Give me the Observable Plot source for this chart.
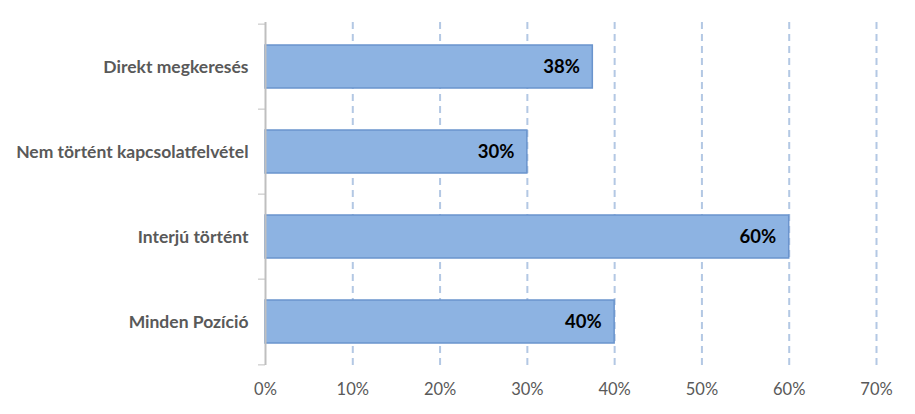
<!DOCTYPE html>
<html>
<head>
<meta charset="utf-8">
<script src="https://cdn.jsdelivr.net/npm/d3@7"></script>
<script src="https://cdn.jsdelivr.net/npm/@observablehq/plot@0.6"></script>
<style>
  html, body { margin: 0; padding: 0; background: #fff; }
  #chart { width: 915px; height: 414px; }
</style>
</head>
<body>
<div id="chart"></div>
<script>
const categories = ["Direkt megkeresés", "Nem történt kapcsolatfelvétel", "Interjú történt", "Minden Pozíció"];
const values = [0.375, 0.30, 0.60, 0.40];
const xTicks = [0, 0.1, 0.2, 0.3, 0.4, 0.5, 0.6, 0.7];

const data = categories.map((c, i) => ({category: c, value: values[i]}));

const W = 915, H = 414;
const mTop = 22, mBottom = 49, mLeft = 265, mRight = 39;
const step = (H - mTop - mBottom) / categories.length;

const fmt = d3.format(".0%");

const chart = Plot.plot({
  width: W,
  height: H,
  marginTop: mTop,
  marginBottom: mBottom,
  marginLeft: mLeft,
  marginRight: mRight,
  style: {fontFamily: "Lato, 'Open Sans', sans-serif", fontSize: "15px", color: "#595959", background: "#fff", overflow: "visible"},
  x: {domain: [0, 0.7], label: null},
  y: {domain: categories, paddingInner: 0.5, paddingOuter: 0.25, label: null},
  marks: [
    Plot.ruleX(xTicks.filter(d => d > 0), {stroke: "#b3c8e4", strokeWidth: 2, strokeDasharray: "7,5"}),
    Plot.barX(data, {y: "category", x: "value", fill: "#8db3e2", stroke: "#6a94cd", strokeWidth: 1.5}),
    Plot.text(data, {y: "category", x: "value", text: d => fmt(d.value), textAnchor: "end", dx: -13, fill: "#000", fontWeight: "bold", fontSize: 18.5}),
    Plot.ruleX([0], {stroke: "#bfbfbf", strokeWidth: 2}),
    Plot.ruleY(data, {y: "category", x1: -0.008, x2: 0, dy: -step / 2, stroke: "#bfbfbf", strokeWidth: 1}),
    Plot.ruleY([categories[categories.length - 1]], {x1: -0.008, x2: 0, dy: step / 2, stroke: "#bfbfbf", strokeWidth: 1}),
    Plot.axisY({tickSize: 0, tickPadding: 17, fontWeight: "bold", fill: "#595959", fontSize: 17.5, label: null}),
    Plot.axisX({ticks: xTicks, tickFormat: fmt, tickSize: 0, tickPadding: 18, fill: "#595959", fontSize: 16.5, label: null})
  ]
});
document.getElementById("chart").appendChild(chart);
</script>
</body>
</html>
